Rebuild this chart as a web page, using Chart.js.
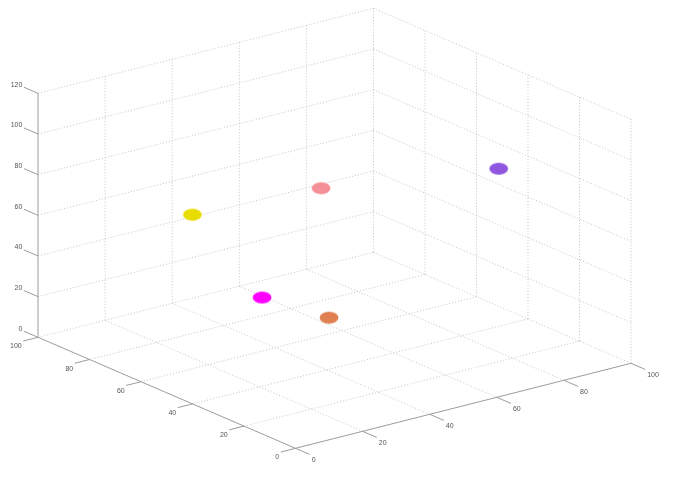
<!DOCTYPE html>
<html>
<head>
<meta charset="utf-8">
<style>html,body{margin:0;padding:0;background:#fff}canvas{display:block}</style>
<script src="https://cdn.jsdelivr.net/npm/chart.js@4"></script>
</head>
<body>
<canvas id="c" width="675" height="477"></canvas>
<script>
// Data
const xTicks = [0, 20, 40, 60, 80, 100];
const yTicks = [0, 20, 40, 60, 80, 100];
const zTicks = [0, 20, 40, 60, 80, 100, 120];
const pointX = [40.7, 36.1, 23.0, 46.0, 83.6];
const pointY = [40, 60, 70, 50, 30];
const pointZ = [25.4, 26.3, 67.1, 81.4, 86.2];
const pointColors = ['#e07f50', '#ff00ff', '#e8dc00', '#f49098', '#8f56e0'];

// Orthographic view of the 3D box
function project(x, y, z) {
  return {
    x: 295.5 + 3.355 * x - 2.575 * y,
    y: 448.3 - 0.85 * x - 1.11 * y - 2.033 * z
  };
}
const xMax = xTicks[xTicks.length - 1], yMax = yTicks[yTicks.length - 1], zMax = zTicks[zTicks.length - 1];
const TICK = 5.5;

const gridStyle = { borderColor: '#c4c4c4', borderWidth: 1, borderDash: [1, 2], showLine: true, pointRadius: 0, order: 3, tension: 0, fill: false };
const axisStyle = { borderColor: '#9c9c9c', borderWidth: 1, showLine: true, pointRadius: 0, order: 2, tension: 0, fill: false };
function seg(a, b, style) { return Object.assign({ data: [a, b] }, style); }

const datasets = [];
// floor
xTicks.forEach(t => { if (t > 0 && t < xMax) datasets.push(seg(project(t, 0, 0), project(t, yMax, 0), gridStyle)); });
yTicks.forEach(t => { if (t > 0 && t < yMax) datasets.push(seg(project(0, t, 0), project(xMax, t, 0), gridStyle)); });
// back walls
zTicks.forEach(t => {
  datasets.push(seg(project(0, yMax, t), project(xMax, yMax, t), gridStyle));
  datasets.push(seg(project(xMax, yMax, t), project(xMax, 0, t), gridStyle));
});
xTicks.forEach(t => { if (t > 0) datasets.push(seg(project(t, yMax, 0), project(t, yMax, zMax), gridStyle)); });
yTicks.forEach(t => { if (t < yMax) datasets.push(seg(project(xMax, t, 0), project(xMax, t, zMax), gridStyle)); });
// axes and tick marks
datasets.push(seg(project(0, 0, 0), project(xMax, 0, 0), axisStyle));
datasets.push(seg(project(0, 0, 0), project(0, yMax, 0), axisStyle));
datasets.push(seg(project(0, yMax, 0), project(0, yMax, zMax), axisStyle));
xTicks.forEach(t => datasets.push(seg(project(t, 0, 0), project(t, -TICK, 0), axisStyle)));
yTicks.forEach(t => datasets.push(seg(project(0, t, 0), project(-TICK * 0.8, t, 0), axisStyle)));
zTicks.forEach(t => datasets.push(seg(project(0, yMax, t), project(0, yMax + TICK, t), axisStyle)));

// elliptical markers
function marker(color) {
  const cv = document.createElement('canvas');
  cv.width = 24; cv.height = 16;
  const g = cv.getContext('2d');
  g.fillStyle = color;
  g.beginPath();
  g.ellipse(12, 8, 9.4, 6.1, 0, 0, Math.PI * 2);
  g.fill();
  return cv;
}
pointX.forEach((v, i) => {
  datasets.push({
    data: [project(v, pointY[i], pointZ[i])],
    pointStyle: marker(pointColors[i]),
    pointBorderWidth: 0,
    pointBorderColor: 'rgba(0,0,0,0)',
    pointBackgroundColor: pointColors[i],
    showLine: false,
    order: 1
  });
});

const tickLabels = {
  id: 'tickLabels',
  afterDatasetsDraw(chart) {
    const g = chart.ctx, sx = chart.scales.x, sy = chart.scales.y;
    g.save();
    g.font = '7px "Liberation Sans", sans-serif';
    g.fillStyle = '#555';
    g.textBaseline = 'middle';
    function put(p, txt, align, dx, dy) {
      g.textAlign = align;
      g.fillText(txt, sx.getPixelForValue(p.x) + dx, sy.getPixelForValue(p.y) + dy);
    }
    xTicks.forEach(t => put(project(t, -TICK, 0), String(t), 'left', 2, 6));
    yTicks.forEach(t => put(project(-TICK * 0.8, t, 0), String(t), 'right', -1.5, 5.5));
    zTicks.forEach(t => put(project(0, yMax + TICK, t), String(t), 'right', -1.5, -2.5));
    g.restore();
  }
};

new Chart(document.getElementById('c'), {
  type: 'scatter',
  data: { datasets },
  plugins: [tickLabels],
  options: {
    responsive: false,
    animation: false,
    layout: { padding: 0, autoPadding: false },
    plugins: { legend: { display: false }, tooltip: { enabled: false } },
    scales: {
      x: { type: 'linear', min: 0, max: 675, display: false },
      y: { type: 'linear', min: 0, max: 477, reverse: true, display: false }
    }
  }
});
</script>
</body>
</html>
